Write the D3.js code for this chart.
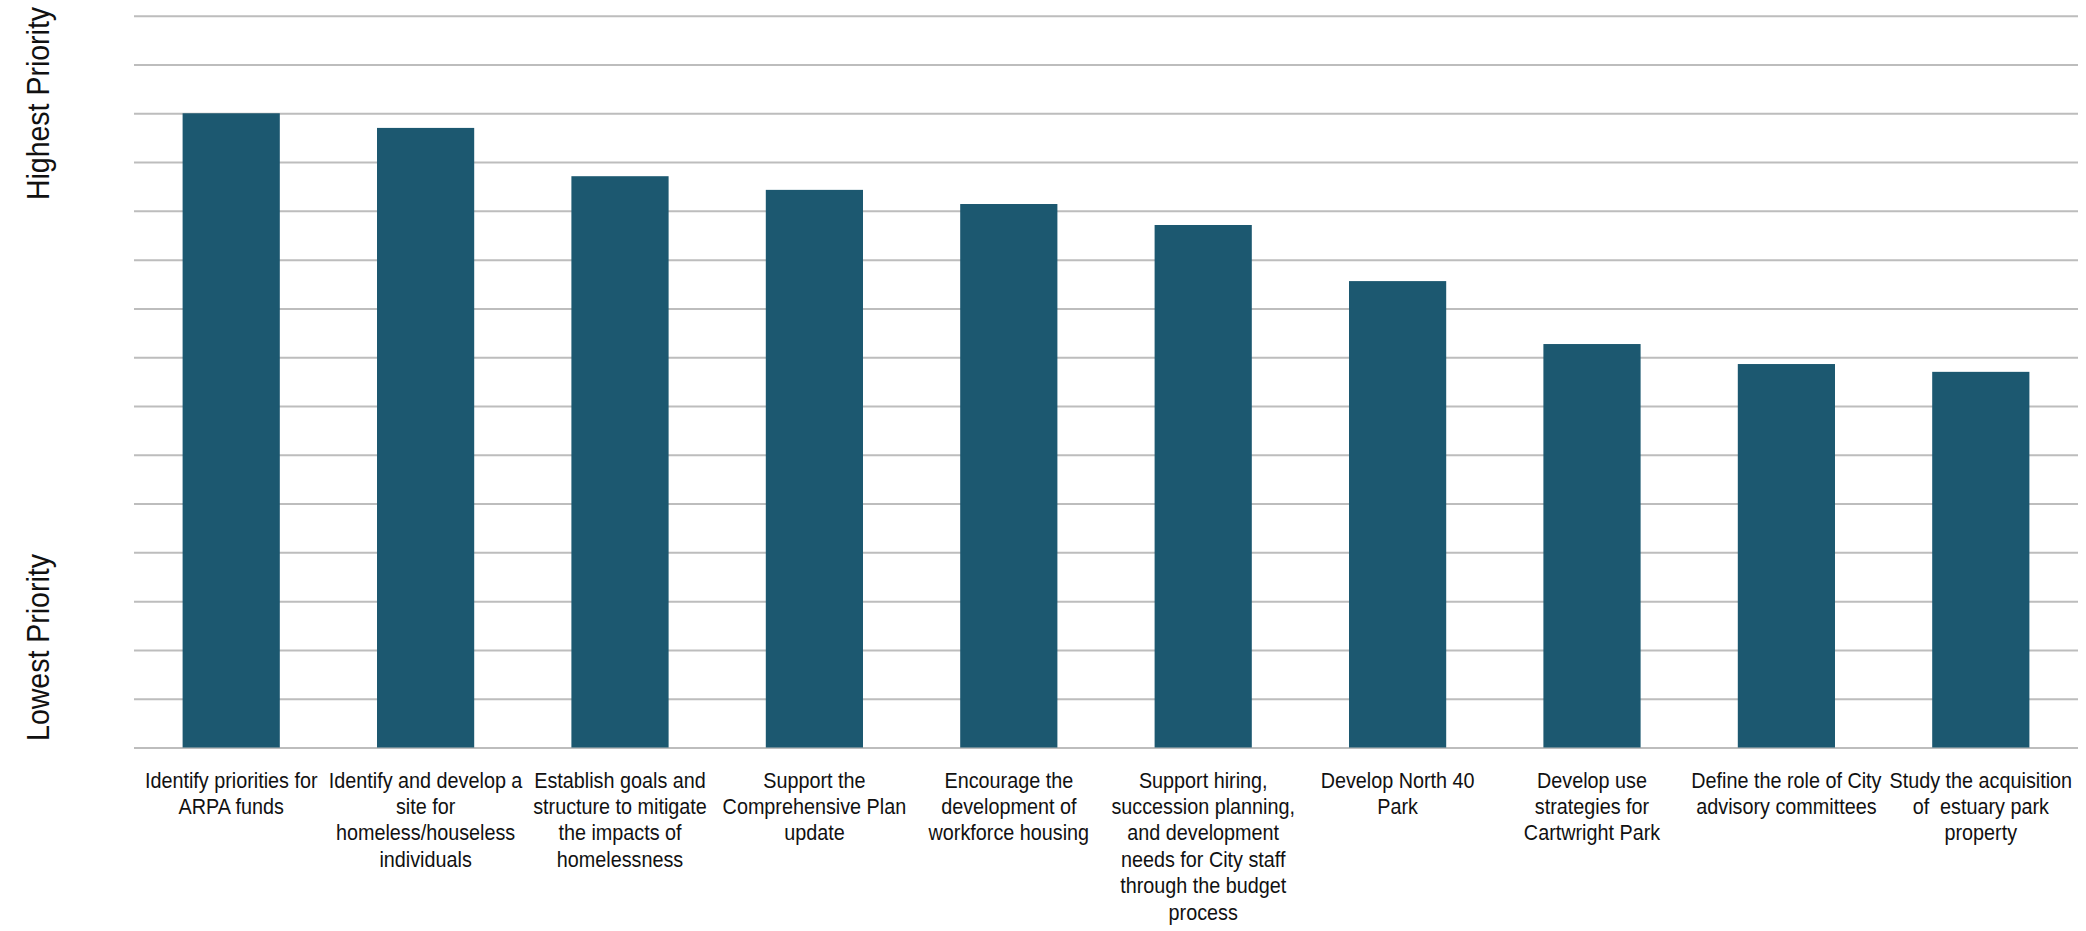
<!DOCTYPE html>
<html>
<head>
<meta charset="utf-8">
<script src="https://cdn.jsdelivr.net/npm/d3@7"></script>
<style>
  html, body { margin: 0; padding: 0; background: #fff; }
  svg { display: block; }
  text { font-family: "Liberation Sans", Arial, sans-serif; fill: #111; white-space: pre; }
</style>
</head>
<body>
<svg id="chart" width="2086" height="931"></svg>
<script>
// ---- data ----
const categories = [
  "Identify priorities for ARPA funds",
  "Identify and develop a site for homeless/houseless individuals",
  "Establish goals and structure to mitigate the impacts of homelessness",
  "Support the Comprehensive Plan update",
  "Encourage the development of workforce housing",
  "Support hiring, succession planning, and development needs for City staff through the budget process",
  "Develop North 40 Park",
  "Develop use strategies for Cartwright Park",
  "Define the role of City advisory committees",
  "Study the acquisition of  estuary park property"
];
const labelLines = [
  ["Identify priorities for", "ARPA funds"],
  ["Identify and develop a", "site for", "homeless/houseless", "individuals"],
  ["Establish goals and", "structure to mitigate", "the impacts of", "homelessness"],
  ["Support the", "Comprehensive Plan", "update"],
  ["Encourage the", "development of", "workforce housing"],
  ["Support hiring,", "succession planning,", "and development", "needs for City staff", "through the budget", "process"],
  ["Develop North 40", "Park"],
  ["Develop use", "strategies for", "Cartwright Park"],
  ["Define the role of City", "advisory committees"],
  ["Study the acquisition", "of  estuary park", "property"]
];
const scores = [13.0, 12.70, 11.71, 11.43, 11.14, 10.71, 9.56, 8.27, 7.86, 7.70];
const yMax = 15;
const gridTicks = d3.range(0, yMax + 1);
const axisTitles = ["Highest Priority", "Lowest Priority"];

// ---- layout ----
const svg = d3.select("#chart");
const plotLeft = 134, plotRight = 2078, plotTop = 15.7, plotBottom = 747.5;

const x = d3.scaleBand().domain(categories).range([plotLeft, plotRight])
  .paddingInner(0.5).paddingOuter(0.25);
const y = d3.scaleLinear().domain([0, yMax]).range([plotBottom, plotTop]);

// gridlines via axis
const grid = svg.append("g")
  .attr("transform", `translate(${plotLeft},0)`)
  .call(d3.axisLeft(y).tickValues(gridTicks).tickSize(-(plotRight - plotLeft)).tickFormat(""));
grid.select(".domain").remove();
grid.selectAll(".tick line").attr("stroke", "#bdbdbd").attr("stroke-width", 2);

// bars
svg.append("g").selectAll("rect")
  .data(scores)
  .join("rect")
  .attr("x", (d, i) => x(categories[i]))
  .attr("width", x.bandwidth())
  .attr("y", d => y(d))
  .attr("height", d => y(0) - y(d))
  .attr("fill", "#1c5870");

// category labels
const lineH = 26.4;
const firstBaseline = 787.5;
const lab = svg.append("g").selectAll("g.lbl")
  .data(labelLines)
  .join("g")
  .attr("class", "lbl");
lab.each(function(lines, i) {
  const cx = x(categories[i]) + x.bandwidth() / 2;
  d3.select(this).selectAll("text")
    .data(lines)
    .join("text")
    .attr("transform", (d, j) => `translate(${cx},${firstBaseline + j * lineH}) scale(0.9,1)`)
    .attr("text-anchor", "middle")
    .attr("font-size", 22)
    .text(d => d);
});

// y-axis titles (rotated)
svg.append("text")
  .attr("transform", `translate(48.5,103.5) rotate(-90) scale(0.92,1)`)
  .attr("text-anchor", "middle")
  .attr("font-size", 31)
  .text(axisTitles[0]);
svg.append("text")
  .attr("transform", `translate(48.5,647.5) rotate(-90) scale(0.92,1)`)
  .attr("text-anchor", "middle")
  .attr("font-size", 31)
  .text(axisTitles[1]);
</script>
</body>
</html>
